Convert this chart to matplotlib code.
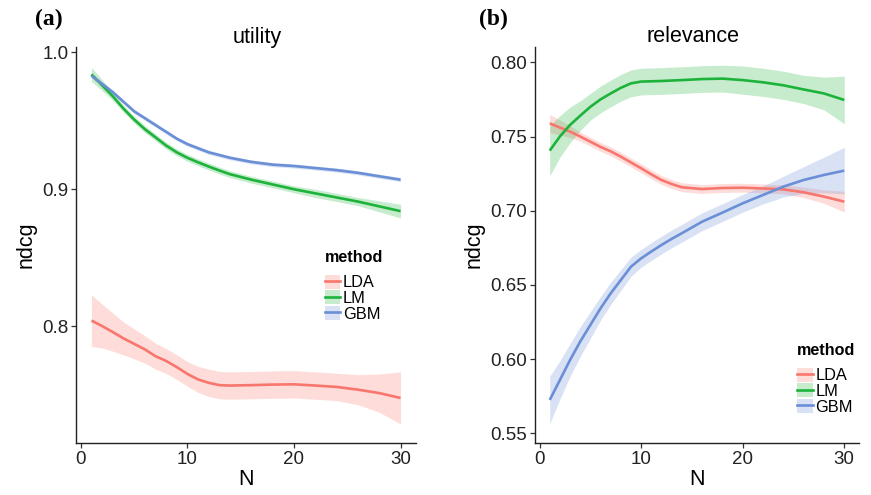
import matplotlib
matplotlib.use("Agg")
import matplotlib.pyplot as plt
from matplotlib.lines import Line2D
from matplotlib.patches import Patch
import numpy as np

plt.rcParams['font.family'] = ['Liberation Sans', 'DejaVu Sans']

# N values at which the smoothed curves are read
N = [1, 2, 3, 4, 5, 6, 7, 8, 9, 10, 11, 12, 13, 14, 16, 18, 20, 22, 24, 26, 28, 30]

# (a) utility
util_lda = [.804, .800, .7956, .791, .787, .783, .778, .7745, .770, .765, .761,
            .7585, .7568, .7565, .7568, .7572, .7574, .7565, .7555, .7535, .751, .7474]
util_lda_se = [.019, .016, .014, .012, .011, .010, .0095, .009, .009, .009, .0095,
               .010, .010, .010, .010, .010, .010, .010, .010, .011, .014, .019]
util_lm = [.984, .976, .968, .959, .951, .944, .938, .932, .927, .923, .9197,
           .9166, .9137, .911, .907, .9035, .900, .897, .894, .891, .8875, .884]
util_lm_se = [.005, .004, .003, .0025, .0025, .0025, .0025, .0025, .0025, .0025, .0025,
              .0025, .0025, .0025, .0025, .0025, .0025, .003, .003, .003, .004, .005]
util_gbm = [.983, .977, .971, .964, .957, .952, .947, .942, .937, .933, .930,
            .927, .925, .923, .920, .918, .917, .9155, .914, .912, .9095, .907]
util_gbm_se = [.0015] * 22

# (b) relevance
rel_lda = [.7589, .756, .7533, .750, .7465, .743, .740, .7364, .7325, .7286, .7245,
           .7207, .718, .7158, .7146, .7153, .7155, .715, .7144, .7124, .7095, .7061]
rel_lda_se = [.006, .005, .004, .003, .003, .003, .003, .003, .003, .003, .003,
              .003, .003, .003, .003, .003, .003, .003, .003, .0035, .0045, .007]
rel_lm = [.7405, .750, .7578, .764, .770, .775, .779, .7828, .7858, .787, .7872,
          .7874, .7877, .788, .7887, .789, .788, .7865, .7845, .7817, .779, .7746]
rel_lm_se = [.017, .014, .012, .010, .009, .009, .009, .009, .009, .009, .009,
             .009, .009, .009, .009, .009, .0095, .0095, .0095, .0095, .011, .016]
rel_gbm = [.5725, .5859, .5994, .6118, .623, .6342, .6443, .6533, .6623, .6679, .6725,
           .6769, .681, .6848, .6926, .6987, .705, .7106, .7162, .7207, .7241, .727]
rel_gbm_se = [.016, .013, .011, .010, .009, .008, .0075, .007, .0065, .006, .006,
              .006, .006, .006, .006, .006, .006, .006, .007, .009, .012, .0157]

methods = ['LDA', 'LM', 'GBM']
colors = ['#F8766D', '#1DB33B', '#6A8FD6']

fig = plt.figure(figsize=(8.71, 4.95), dpi=100)
W, H = 871, 495


def px_axes(l, t, r, b):
    return fig.add_axes([l / W, 1 - b / H, (r - l) / W, (b - t) / H])


ax_a = px_axes(76, 47, 416, 443)
ax_b = px_axes(535, 47, 859, 443)

panels = [
    (ax_a, [(util_lda, util_lda_se), (util_lm, util_lm_se), (util_gbm, util_gbm_se)],
     (0.7145, 1.004), [0.8, 0.9, 1.0], '{:.1f}', (0.732, 0.487)),
    (ax_b, [(rel_lda, rel_lda_se), (rel_lm, rel_lm_se), (rel_gbm, rel_gbm_se)],
     (0.5435, 0.8103), [0.55, 0.60, 0.65, 0.70, 0.75, 0.80], '{:.2f}', (0.809, 0.252)),
]

for ax, series, ylim, yticks, fmt, leg_pos in panels:
    for (y, se), c in zip(series, colors):
        y = np.array(y)
        se = np.array(se)
        ax.fill_between(N, y - se, y + se, color=c, alpha=0.25, lw=0)
    for (y, se), c in zip(series, colors):
        ax.plot(N, y, color=c, lw=1.9, solid_capstyle='butt')
    ax.set_xlim(-0.45, 31.45)
    ax.set_ylim(*ylim)
    ax.set_xticks([0, 10, 20, 30])
    ax.set_yticks(yticks)
    ax.set_yticklabels([fmt.format(v) for v in yticks])
    ax.spines['top'].set_visible(False)
    ax.spines['right'].set_visible(False)
    for s in ['left', 'bottom']:
        ax.spines[s].set_linewidth(1.0)
        ax.spines[s].set_color('#222222')
    ax.tick_params(direction='out', length=3.5, width=0.9, color='#333333',
                   labelsize=13.5, labelcolor='#222222', pad=2)
    ax.set_xlabel('N', fontsize=15.5, labelpad=1)
    ax.set_ylabel('ndcg', fontsize=15.5, labelpad=4)

    handles = [(Patch(facecolor=c, alpha=0.25, edgecolor='none'),
                Line2D([], [], color=c, lw=1.9)) for c in colors]
    leg = ax.legend(handles, methods, title='method', loc='upper left',
                    bbox_to_anchor=leg_pos, frameon=False, fontsize=11.8,
                    title_fontproperties={'weight': 'bold', 'size': 11.6},
                    handlelength=0.95, handleheight=0.92, labelspacing=0.0,
                    handletextpad=0.15, borderpad=0, borderaxespad=0,
                    alignment='left')
    # extra gap between the legend title and its keys
    leg._legend_box.sep = 7

fig.text(257 / W, 1 - 37 / H, 'utility', ha='center', va='center', fontsize=15.5)
fig.text(693 / W, 1 - 37 / H, 'relevance', ha='center', va='center', fontsize=15.5)
fig.text(35 / W, 1 - 19 / H, '(a)', ha='left', va='center', fontsize=17,
         family='Liberation Serif', weight='bold')
fig.text(479 / W, 1 - 19 / H, '(b)', ha='left', va='center', fontsize=17,
         family='Liberation Serif', weight='bold')

fig.savefig('out.png', dpi=100)
